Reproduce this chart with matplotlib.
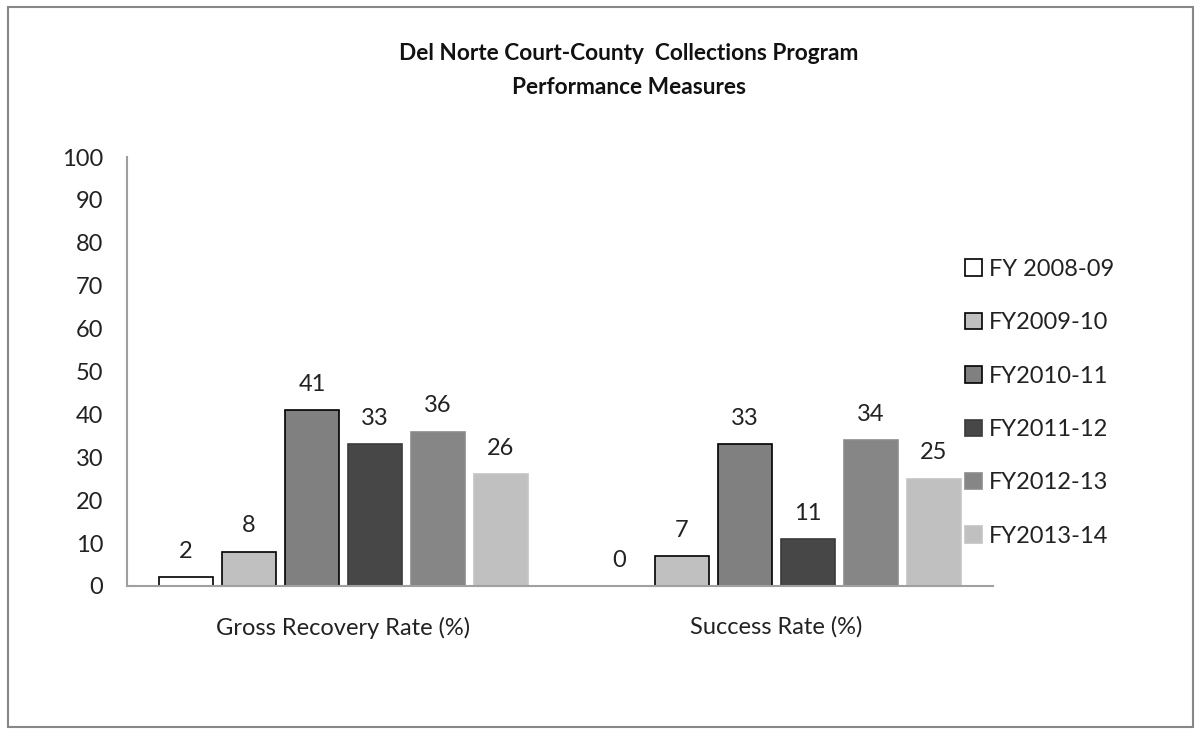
import matplotlib
matplotlib.use("Agg")
import matplotlib.pyplot as plt
import numpy as np
from matplotlib.patches import Rectangle

categories = ["Gross Recovery Rate (%)", "Success Rate (%)"]
series_names = ["FY 2008-09", "FY2009-10", "FY2010-11", "FY2011-12", "FY2012-13", "FY2013-14"]
values = [
    [2, 0],
    [8, 7],
    [41, 33],
    [33, 11],
    [36, 34],
    [26, 25],
]
fill_colors = ["#ffffff", "#c0c0c0", "#808080", "#474747", "#868686", "#c0c0c0"]
edge_colors = ["#000000", "#000000", "#000000", "#3a3a3a", "#8c8c8c", "#c4c4c4"]
yticks = [0, 10, 20, 30, 40, 50, 60, 70, 80, 90, 100]

plt.rcParams['font.family'] = ['Lato', 'DejaVu Sans']
FS = 17

fig = plt.figure(figsize=(12.01, 7.30), dpi=100)
ax = fig.add_axes([127/1201, 1-586/730, (993-127)/1201, (586-157)/730])

x = np.arange(len(categories))
slot = 0.1455
width = 0.125
n = len(series_names)
handles = []
for i, name in enumerate(series_names):
    pos = x + (i - (n - 1) / 2) * slot
    bars = ax.bar(pos, values[i], width=width, color=fill_colors[i],
                  edgecolor=edge_colors[i], linewidth=1.2, label=name)
    handles.append(bars)
    for xp, v in zip(pos, values[i]):
        ax.annotate(str(v), (xp, v), xytext=(0, 11), textcoords="offset points",
                    ha="center", va="bottom", fontsize=FS, color="#222222")

ax.set_xlim(-0.5, 1.5)
ax.set_ylim(0, 100)
ax.set_yticks(yticks)
ax.set_xticks(x)
ax.set_xticklabels(categories, fontsize=FS, color="#222222")
ax.tick_params(axis='y', length=0, labelsize=FS, labelcolor="#222222", pad=17)
ax.tick_params(axis='x', length=0, pad=22)
for s in ["top", "right"]:
    ax.spines[s].set_visible(False)
for s in ["left", "bottom"]:
    ax.spines[s].set_color("#a0a0a0")
    ax.spines[s].set_linewidth(1.5)

leg = fig.legend(handles=handles, labels=series_names, loc="upper left",
                 bbox_to_anchor=(965/1201, 1-259/730), frameon=False,
                 fontsize=FS, handlelength=0.7, handleheight=0.7,
                 handletextpad=0.3, labelspacing=1.37, borderaxespad=0,
                 borderpad=0, labelcolor="#222222")

fig.text(629/1201, 1-53/730, "Del Norte Court-County  Collections Program", ha="center",
         va="center", fontsize=16.3, fontweight="bold", color="#111111")
fig.text(629/1201, 1-88/730, "Performance Measures", ha="center",
         va="center", fontsize=16.3, fontweight="bold", color="#111111")

border = Rectangle((8/1201, 1-727/730), (1193-8)/1201, (727-7)/730,
                   transform=fig.transFigure, fill=False, edgecolor="#878787",
                   linewidth=1.5)
fig.add_artist(border)

fig.savefig("out.png", dpi=100)
